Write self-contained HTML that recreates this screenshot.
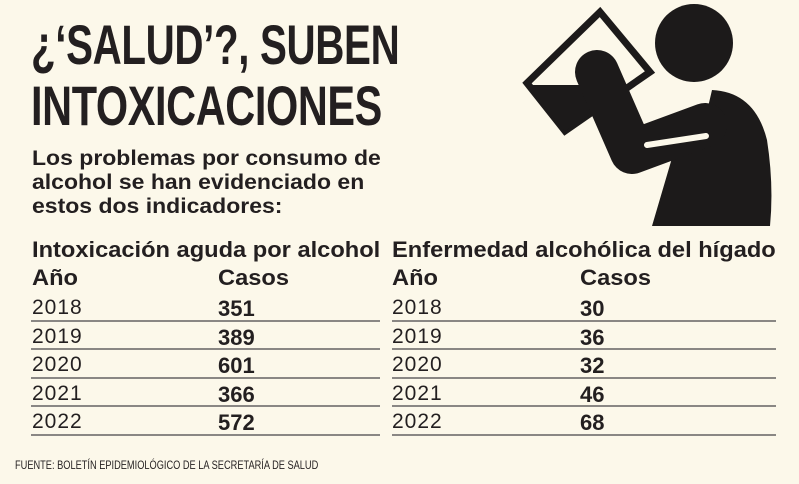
<!DOCTYPE html>
<html><head><meta charset="utf-8"><style>
body{margin:0;width:799px;height:484px;background:#fcf8ea;overflow:hidden;position:relative;font-family:"Liberation Sans",sans-serif;color:#231f20}
.t{position:absolute;white-space:nowrap;transform-origin:0 0}
.h1{font-weight:bold;font-size:56px;left:31px;letter-spacing:-0.5px}
.sub{font-weight:bold;font-size:21px;left:32px;transform:scaleX(1.095)}
.hd{font-weight:bold;font-size:22px;transform:scaleX(1.075)}
.yr{font-size:21px;letter-spacing:1px}
.nm{font-weight:bold;font-size:22px}
.ln{position:absolute;height:2px;background:#8a8784}
</style></head><body>
<div class="t h1" style="top:12px;transform:scaleX(0.72)">¿‘SALUD’?, SUBEN</div>
<div class="t h1" style="top:73px;transform:scaleX(0.74)">INTOXICACIONES</div>
<div class="t sub" style="top:147px">Los problemas por consumo de</div>
<div class="t sub" style="top:171px">alcohol se han evidenciado en</div>
<div class="t sub" style="top:195px">estos dos indicadores:</div>

<div class="t hd" style="left:32px;top:237px">Intoxicación aguda por alcohol</div>
<div class="t hd" style="left:32px;top:265px">Año</div>
<div class="t hd" style="left:218px;top:265px">Casos</div>
<div class="t hd" style="left:392px;top:237px">Enfermedad alcohólica del hígado</div>
<div class="t hd" style="left:392px;top:265px">Año</div>
<div class="t hd" style="left:580px;top:265px">Casos</div>

<div class="t yr" style="left:32px;top:296px">2018</div><div class="t nm" style="left:218px;top:296px">351</div>
<div class="t yr" style="left:32px;top:325px">2019</div><div class="t nm" style="left:218px;top:325px">389</div>
<div class="t yr" style="left:32px;top:353px">2020</div><div class="t nm" style="left:218px;top:353px">601</div>
<div class="t yr" style="left:32px;top:382px">2021</div><div class="t nm" style="left:218px;top:382px">366</div>
<div class="t yr" style="left:32px;top:410px">2022</div><div class="t nm" style="left:218px;top:410px">572</div>

<div class="t yr" style="left:392px;top:296px">2018</div><div class="t nm" style="left:580px;top:296px">30</div>
<div class="t yr" style="left:392px;top:325px">2019</div><div class="t nm" style="left:580px;top:325px">36</div>
<div class="t yr" style="left:392px;top:353px">2020</div><div class="t nm" style="left:580px;top:353px">32</div>
<div class="t yr" style="left:392px;top:382px">2021</div><div class="t nm" style="left:580px;top:382px">46</div>
<div class="t yr" style="left:392px;top:410px">2022</div><div class="t nm" style="left:580px;top:410px">68</div>

<div class="ln" style="left:31px;width:349px;top:320px"></div>
<div class="ln" style="left:31px;width:349px;top:348px"></div>
<div class="ln" style="left:31px;width:349px;top:377px"></div>
<div class="ln" style="left:31px;width:349px;top:405px"></div>
<div class="ln" style="left:31px;width:349px;top:434px"></div>
<div class="ln" style="left:392px;width:384px;top:320px"></div>
<div class="ln" style="left:392px;width:384px;top:348px"></div>
<div class="ln" style="left:392px;width:384px;top:377px"></div>
<div class="ln" style="left:392px;width:384px;top:405px"></div>
<div class="ln" style="left:392px;width:384px;top:434px"></div>

<div class="t" style="left:15px;top:458px;font-size:12px;transform:scaleX(0.77)">FUENTE: BOLETÍN EPIDEMIOLÓGICO DE LA SECRETARÍA DE SALUD</div>

<svg style="position:absolute;left:0;top:0" width="799" height="484">
<g fill="#1c1a1a">
<circle cx="694" cy="43" r="39"/>
<polygon points="600,12 650,72 565,131 527,83" fill="none" stroke="#1c1a1a" stroke-width="7" stroke-linejoin="miter"/>
<polygon points="527,85 580,85 605,95 640,82 565,131"/>
<path d="M712,90 Q755,92 767,140 Q774,185 770,226 L652,226 L672,158 L640,166 Q625,168 618,150 L597,80 L632,152 L705,120 Z"/>
<path d="M597,72 L632,152 L705,125" fill="none" stroke="#1c1a1a" stroke-width="44" stroke-linecap="round" stroke-linejoin="round"/>
</g>
<path d="M647,145 L706,136" stroke="#fcf8ea" stroke-width="6" stroke-linecap="round"/>
</svg>
</body></html>
